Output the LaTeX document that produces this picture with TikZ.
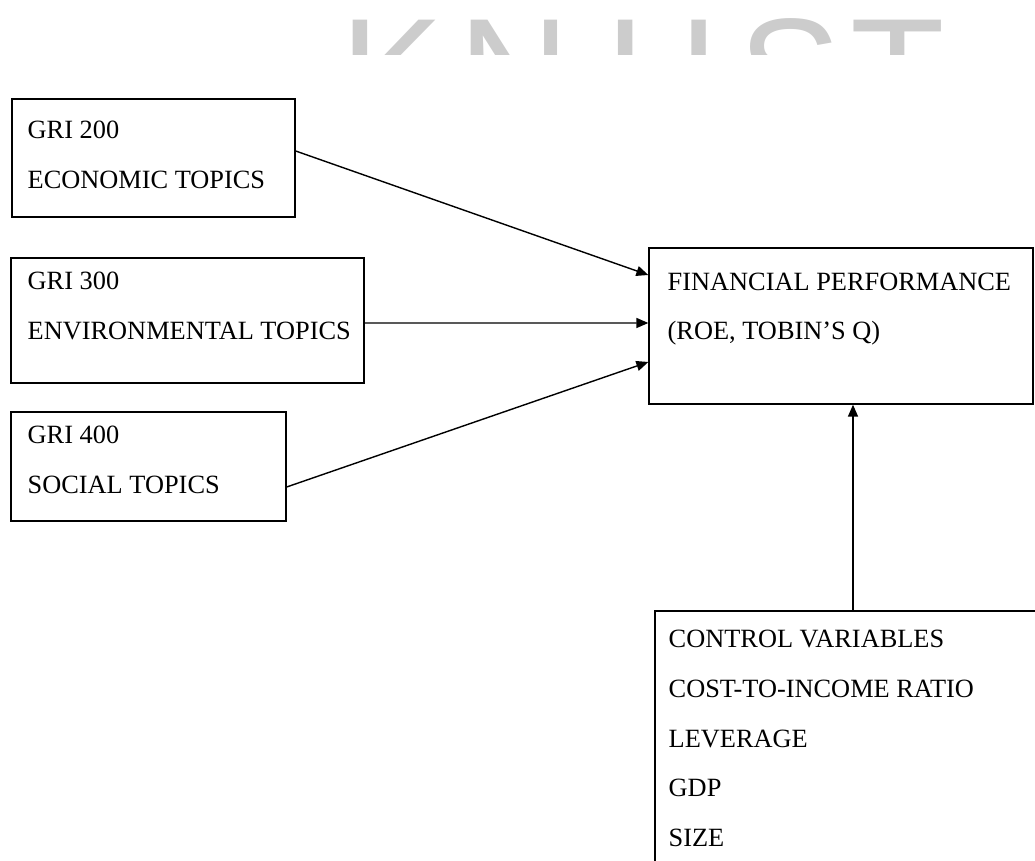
\documentclass[tikz,border=0pt]{standalone}
\usepackage{fontspec}
\setmainfont{Liberation Serif}
\newfontfamily\wmfont{Liberation Sans}
\usetikzlibrary{arrows.meta,calc}

\begin{document}
\begin{tikzpicture}[x=0.02cm,y=-0.02cm,
	box/.style={draw,line width=0.8pt,inner sep=0pt},
	txt/.style={anchor=north west,inner sep=0pt,align=left,font=\fontsize{15}{28.3}\selectfont},
	link/.style={line width=0.8pt,-{Triangle[length=6.8pt,width=5.7pt]}},
	wm/.style={anchor=base,inner sep=0pt,text=black!20,font=\wmfont\fontsize{88}{88}\selectfont}]
		\useasboundingbox (0,0) rectangle (1035,861);
		\clip (0,0) rectangle (1035,861);
		% faint watermark at the top
		\begin{scope}
		\clip (0,0) rectangle (1035,55);
		\foreach \l/\x in {K/392,N/514,U/662,S/790,T/898}
		  \node[wm] (wm\l) at (\x,127) {\l};
		\end{scope}
		%
		\node[box,minimum width=5.66cm,minimum height=2.36cm] (eco) at (153.5,158) {};
		\node[box,minimum width=7.06cm,minimum height=2.5cm] (env) at (187.5,320.5) {};
		\node[box,minimum width=5.5cm,minimum height=2.18cm] (soc) at (148.5,466.5) {};
		\node[box,minimum width=7.68cm,minimum height=3.12cm] (fin) at (841,326) {};
		\node[box,minimum width=7.92cm,minimum height=6cm] (ctrl) at (853,761) {};
		%
		\node[txt] (ecotxt) at ($(eco.north west)+(16,22.5)$) {GRI 200\\ECONOMIC TOPICS};
		\node[txt] (envtxt) at ($(env.north west)+(17,14.7)$) {GRI 300\\ENVIRONMENTAL TOPICS};
		\node[txt] (soctxt) at ($(soc.north west)+(17,14.7)$) {GRI 400\\SOCIAL TOPICS};
		\node[txt] (fintxt) at ($(fin.north west)+(19,25)$) {FINANCIAL PERFORMANCE\\(ROE, TOBIN’S Q)};
		\node[txt] (ctrltxt) at ($(ctrl.north west)+(14,19.7)$) {CONTROL VARIABLES\\COST-TO-INCOME RATIO\\LEVERAGE\\GDP\\SIZE};
		%
		\draw[link] ([yshift=0.14cm]eco.east) -- ([yshift=1.02cm]fin.west);
		\draw[link] ([yshift=-0.05cm]env.east) -- ([yshift=0.06cm]fin.west);
		\draw[link] ([yshift=-0.41cm]soc.east) -- ([yshift=-0.72cm]fin.west);
		\draw[link] (ctrl.north) -- (fin.south -| ctrl.north);
\end{tikzpicture}
\end{document}
